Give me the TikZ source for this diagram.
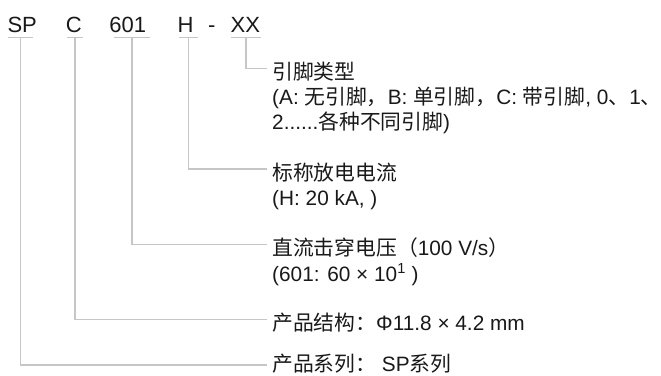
\documentclass[tikz,border=0pt]{standalone}
\usepackage{fontspec}
\setmainfont{Liberation Sans}
\newfontfamily\cjk{Noto Sans CJK SC}
\usetikzlibrary{calc}

\begin{document}
\begin{tikzpicture}[x=1pt, y=-1pt,
  code/.style={anchor=base west, inner sep=0, font=\fontsize{22}{26}\selectfont, text=black!90},
  desc/.style={anchor=base west, inner sep=0, font=\fontsize{20.8}{25}\selectfont, text=black!90},
  lead/.style={draw=gray!45, line width=1.6}]
\useasboundingbox (0,0) rectangle (661,375);
% part number
\path
(7.3,32) node[code] (sp) {SP};
\path
(65.7,32) node[code] (c) {C};
\path
(109.2,32) node[code] (n601) {601};
\path
(177.3,32) node[code] (h) {H};
\path
(208,32) node[code] (dash) {-};
\path
(230.5,32) node[code] (xx) {XX};
% underlines
\coordinate (sp-l) at (8,37.5);
\coordinate (sp-r) at (33,37.5);
\coordinate (c-l) at (67,37.5);
\coordinate (c-r) at (83,37.5);
\coordinate (n601-l) at (114,37.5);
\coordinate (n601-r) at (150,37.5);
\coordinate (h-l) at (179,37.5);
\coordinate (h-r) at (198,37.5);
\coordinate (xx-l) at (231,37.5);
\coordinate (xx-r) at (261,37.5);
\draw[lead] (sp-l)--(sp-r);
\draw[lead] (c-l)--(c-r);
\draw[lead] (n601-l)--(n601-r);
\draw[lead] (h-l)--(h-r);
\draw[lead] (xx-l)--(xx-r);
% leader ends
\coordinate (xx-end) at (267,68.5);
\coordinate (h-end) at (267,169);
\coordinate (n601-end) at (267,244.5);
\coordinate (c-end) at (267,319.3);
\coordinate (sp-end) at (267,365);
\draw[lead] ($(xx-l)!0.5!(xx-r)$) |- (xx-end);
\draw[lead] ($(h-l)!0.5!(h-r)$) |- (h-end);
\draw[lead] ($(n601-l)!0.5!(n601-r)$) |- (n601-end);
\draw[lead] ($(c-l)!0.5!(c-r)$) |- (c-end);
\draw[lead] ($(sp-l)!0.5!(sp-r)$) |- (sp-end);
% descriptions
\path
(272,79.5) node[desc] (xx-a) {\cjk 引脚类型};
\path
(272,104.5) node[desc] (xx-b) {(A: {\cjk 无引脚，}B: {\cjk 单引脚，}C: {\cjk 带引脚}, 0{\cjk 、}1{\cjk 、}};
\path
(272,129.5) node[desc] (xx-c) {2......{\cjk 各种不同引脚})};
\path
(272,180) node[desc] (h-a) {\cjk 标称放电电流};
\path
(272,205.5) node[desc] (h-b) {(H: 20 kA, )};
\path
(272,255.5) node[desc] (n601-a) {{\cjk 直流击穿电压（}100 V/s{\cjk ）}};
\path
(272,281.5) node[desc] (n601-b) {(601: 60 × 10\textsuperscript{1} )};
\path
(272,330.3) node[desc] (c-a) {{\cjk 产品结构：}Φ11.8 × 4.2 mm};
\path
(272,371) node[desc] (sp-a) {{\cjk 产品系列：} SP{\cjk 系列}};
\end{tikzpicture}
\end{document}
